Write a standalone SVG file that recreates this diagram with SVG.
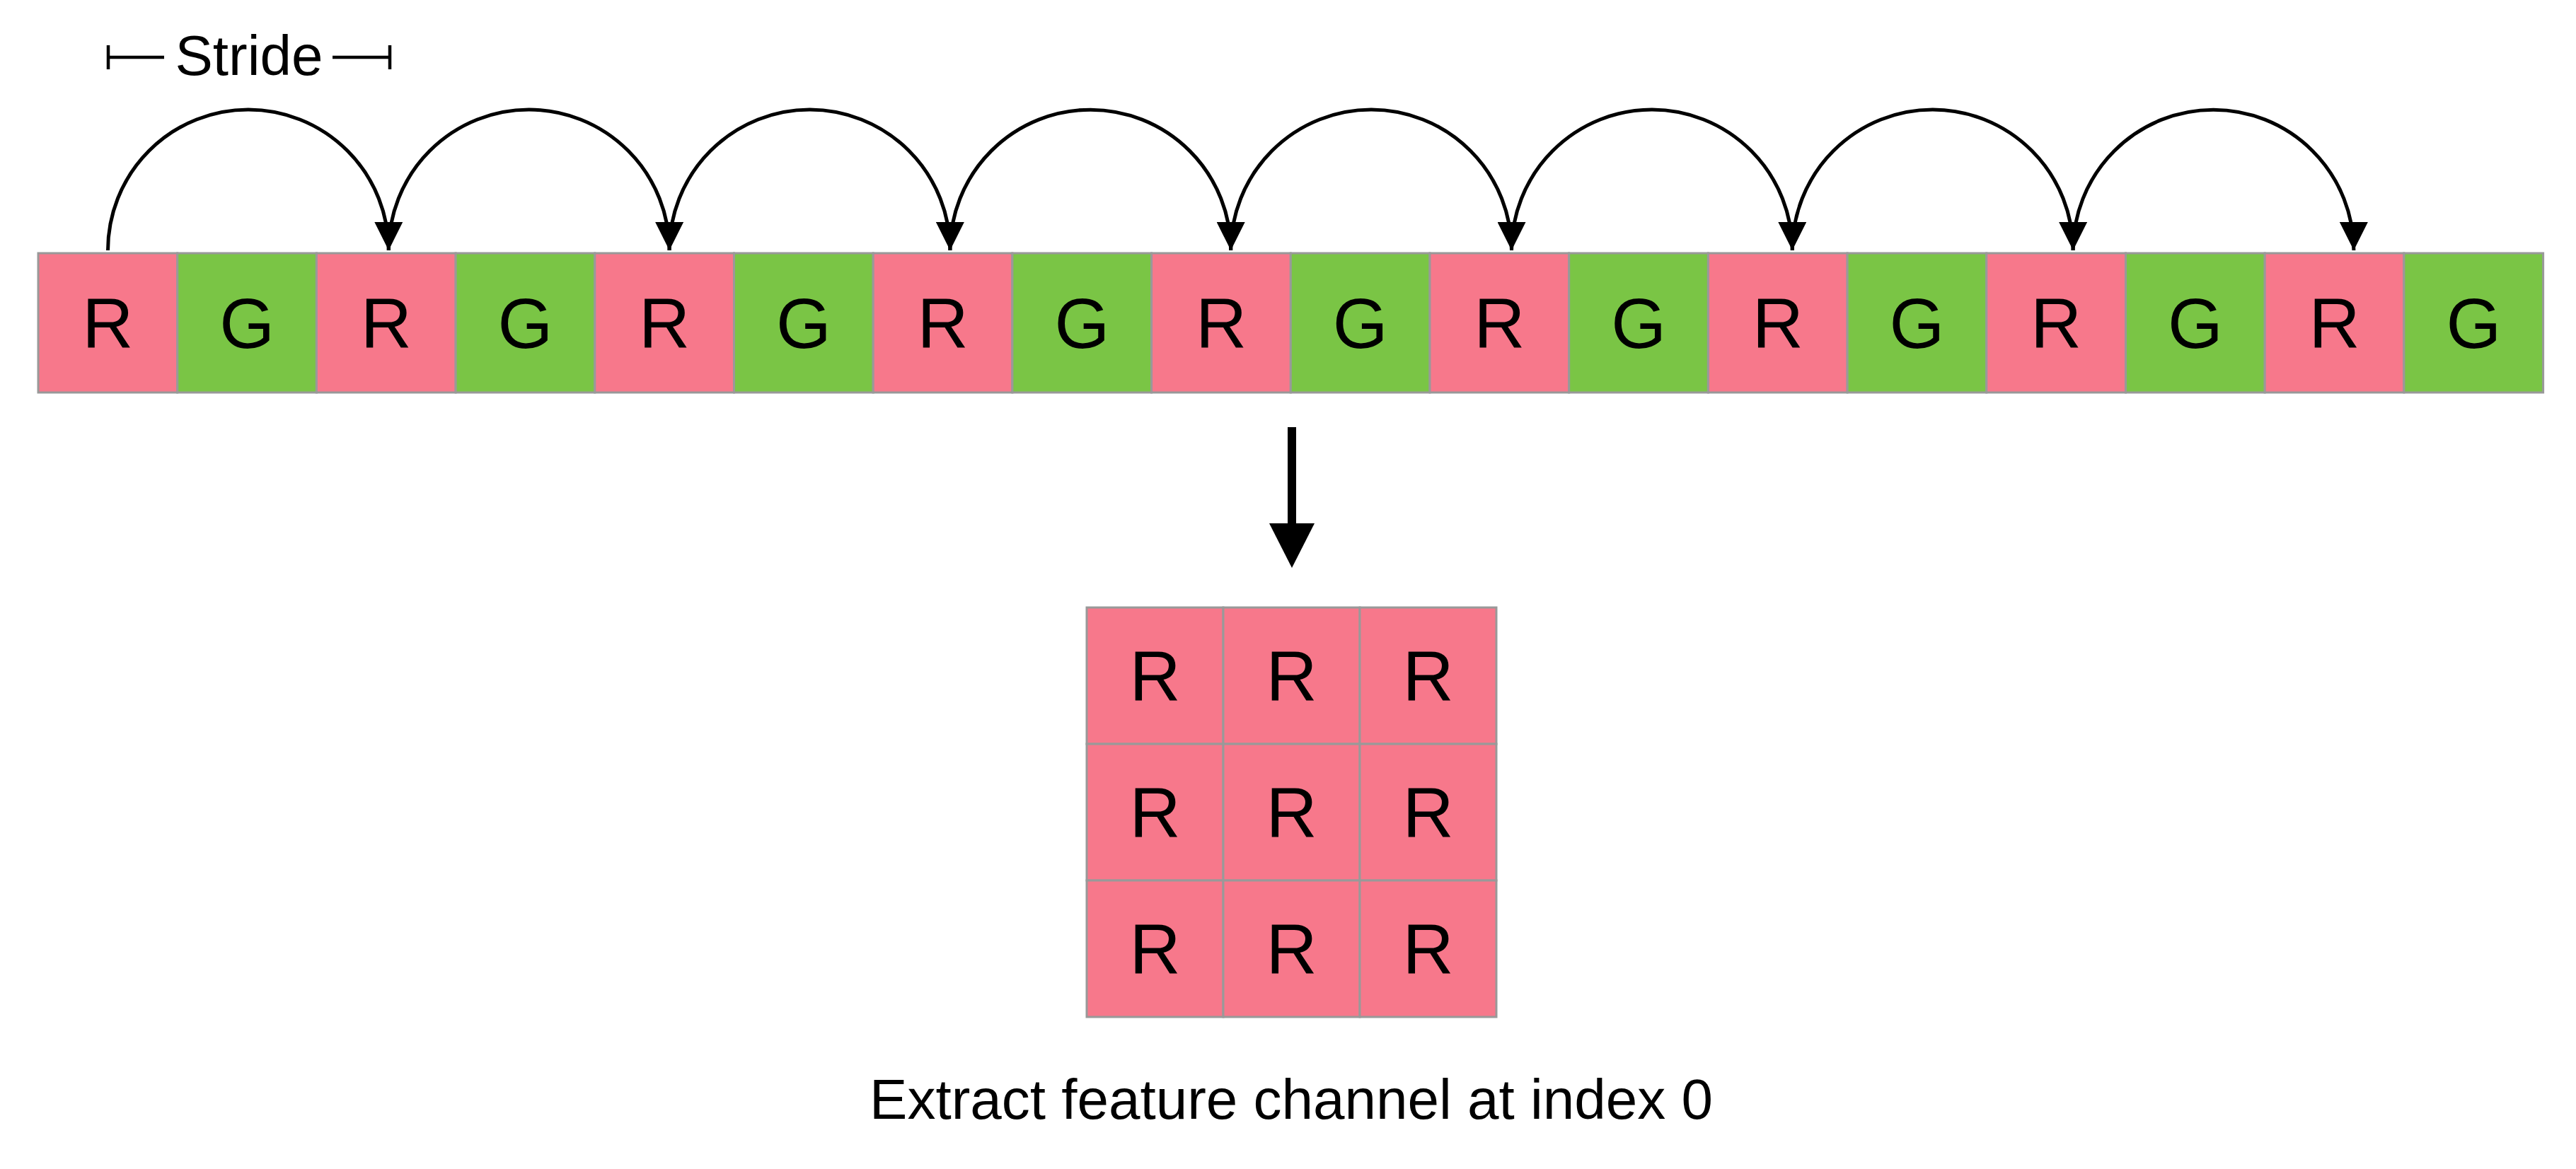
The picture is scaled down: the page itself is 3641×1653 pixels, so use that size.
<svg xmlns="http://www.w3.org/2000/svg" width="3641" height="1653" viewBox="0 0 3641 1653">
<style>
.r{fill:#F7788B;stroke:#999999;stroke-width:3}
.g{fill:#7AC545;stroke:#999999;stroke-width:3}
.t{font-family:"Liberation Sans",Arial,Helvetica,sans-serif;font-size:100px;fill:#000;text-anchor:middle}
.lbl{font-family:"Liberation Sans",Arial,Helvetica,sans-serif;font-size:80px;fill:#000;text-anchor:middle}
.arc{fill:none;stroke:#000;stroke-width:5}
.dim{fill:none;stroke:#000;stroke-width:4.5}
</style>
<defs>
<marker id="ah" markerUnits="userSpaceOnUse" markerWidth="40" markerHeight="40" viewBox="0 0 34 34" refX="34" refY="17" orient="auto">
<path d="M0,0 L34,17 L0,34 Z" fill="#000"/>
</marker>
</defs>
<rect width="3641" height="1653" fill="#fff"/>
<g id="strip">
<g id="c0"><rect class="r" x="54" y="358" width="196.7" height="197"/><text class="t" x="152.4" y="492">R</text></g>
<g id="c1"><rect class="g" x="250.7" y="358" width="196.7" height="197"/><text class="t" x="349.1" y="492">G</text></g>
<g id="c2"><rect class="r" x="447.4" y="358" width="196.7" height="197"/><text class="t" x="545.8" y="492">R</text></g>
<g id="c3"><rect class="g" x="644.1" y="358" width="196.7" height="197"/><text class="t" x="742.5" y="492">G</text></g>
<g id="c4"><rect class="r" x="840.8" y="358" width="196.7" height="197"/><text class="t" x="939.2" y="492">R</text></g>
<g id="c5"><rect class="g" x="1037.5" y="358" width="196.7" height="197"/><text class="t" x="1135.9" y="492">G</text></g>
<g id="c6"><rect class="r" x="1234.2" y="358" width="196.7" height="197"/><text class="t" x="1332.6" y="492">R</text></g>
<g id="c7"><rect class="g" x="1430.9" y="358" width="196.7" height="197"/><text class="t" x="1529.3" y="492">G</text></g>
<g id="c8"><rect class="r" x="1627.6" y="358" width="196.7" height="197"/><text class="t" x="1726" y="492">R</text></g>
<g id="c9"><rect class="g" x="1824.3" y="358" width="196.7" height="197"/><text class="t" x="1922.7" y="492">G</text></g>
<g id="c10"><rect class="r" x="2021" y="358" width="196.7" height="197"/><text class="t" x="2119.4" y="492">R</text></g>
<g id="c11"><rect class="g" x="2217.7" y="358" width="196.7" height="197"/><text class="t" x="2316.1" y="492">G</text></g>
<g id="c12"><rect class="r" x="2414.4" y="358" width="196.7" height="197"/><text class="t" x="2512.8" y="492">R</text></g>
<g id="c13"><rect class="g" x="2611.1" y="358" width="196.7" height="197"/><text class="t" x="2709.5" y="492">G</text></g>
<g id="c14"><rect class="r" x="2807.8" y="358" width="196.7" height="197"/><text class="t" x="2906.2" y="492">R</text></g>
<g id="c15"><rect class="g" x="3004.5" y="358" width="196.7" height="197"/><text class="t" x="3102.9" y="492">G</text></g>
<g id="c16"><rect class="r" x="3201.2" y="358" width="196.7" height="197"/><text class="t" x="3299.6" y="492">R</text></g>
<g id="c17"><rect class="g" x="3397.9" y="358" width="196.7" height="197"/><text class="t" x="3496.3" y="492">G</text></g>
</g>
<g id="grid">
<g id="m00"><rect class="r" x="1536" y="859" width="193" height="193"/><text class="t" x="1632.5" y="991">R</text></g>
<g id="m01"><rect class="r" x="1729" y="859" width="193" height="193"/><text class="t" x="1825.5" y="991">R</text></g>
<g id="m02"><rect class="r" x="1922" y="859" width="193" height="193"/><text class="t" x="2018.5" y="991">R</text></g>
<g id="m10"><rect class="r" x="1536" y="1052" width="193" height="193"/><text class="t" x="1632.5" y="1184">R</text></g>
<g id="m11"><rect class="r" x="1729" y="1052" width="193" height="193"/><text class="t" x="1825.5" y="1184">R</text></g>
<g id="m12"><rect class="r" x="1922" y="1052" width="193" height="193"/><text class="t" x="2018.5" y="1184">R</text></g>
<g id="m20"><rect class="r" x="1536" y="1245" width="193" height="193"/><text class="t" x="1632.5" y="1377">R</text></g>
<g id="m21"><rect class="r" x="1729" y="1245" width="193" height="193"/><text class="t" x="1825.5" y="1377">R</text></g>
<g id="m22"><rect class="r" x="1922" y="1245" width="193" height="193"/><text class="t" x="2018.5" y="1377">R</text></g>
</g>
<g id="stride">
<path class="dim" d="M153,64 V98 M153,81 H232 M470,81 H551 M551,64 V98"/>
<text class="lbl" x="352" y="106">Stride</text>
</g>
<g id="connectors">
<path class="arc" marker-end="url(#ah)" d="M152.5,354 A198.4,199 0 0 1 549.3,354"/>
<path class="arc" marker-end="url(#ah)" d="M549.3,354 A198.4,199 0 0 1 946.1,354"/>
<path class="arc" marker-end="url(#ah)" d="M946.1,354 A198.4,199 0 0 1 1342.9,354"/>
<path class="arc" marker-end="url(#ah)" d="M1342.9,354 A198.4,199 0 0 1 1739.7,354"/>
<path class="arc" marker-end="url(#ah)" d="M1739.7,354 A198.4,199 0 0 1 2136.5,354"/>
<path class="arc" marker-end="url(#ah)" d="M2136.5,354 A198.4,199 0 0 1 2533.3,354"/>
<path class="arc" marker-end="url(#ah)" d="M2533.3,354 A198.4,199 0 0 1 2930.1,354"/>
<path class="arc" marker-end="url(#ah)" d="M2930.1,354 A198.4,199 0 0 1 3326.9,354"/>
<g id="down-arrow">
<rect x="1820" y="604" width="12" height="140" fill="#000"/>
<path d="M1794,740 L1858,740 L1826,803 Z" fill="#000"/>
</g>
</g>
<text class="lbl" x="1825" y="1582">Extract feature channel at index 0</text>
</svg>
